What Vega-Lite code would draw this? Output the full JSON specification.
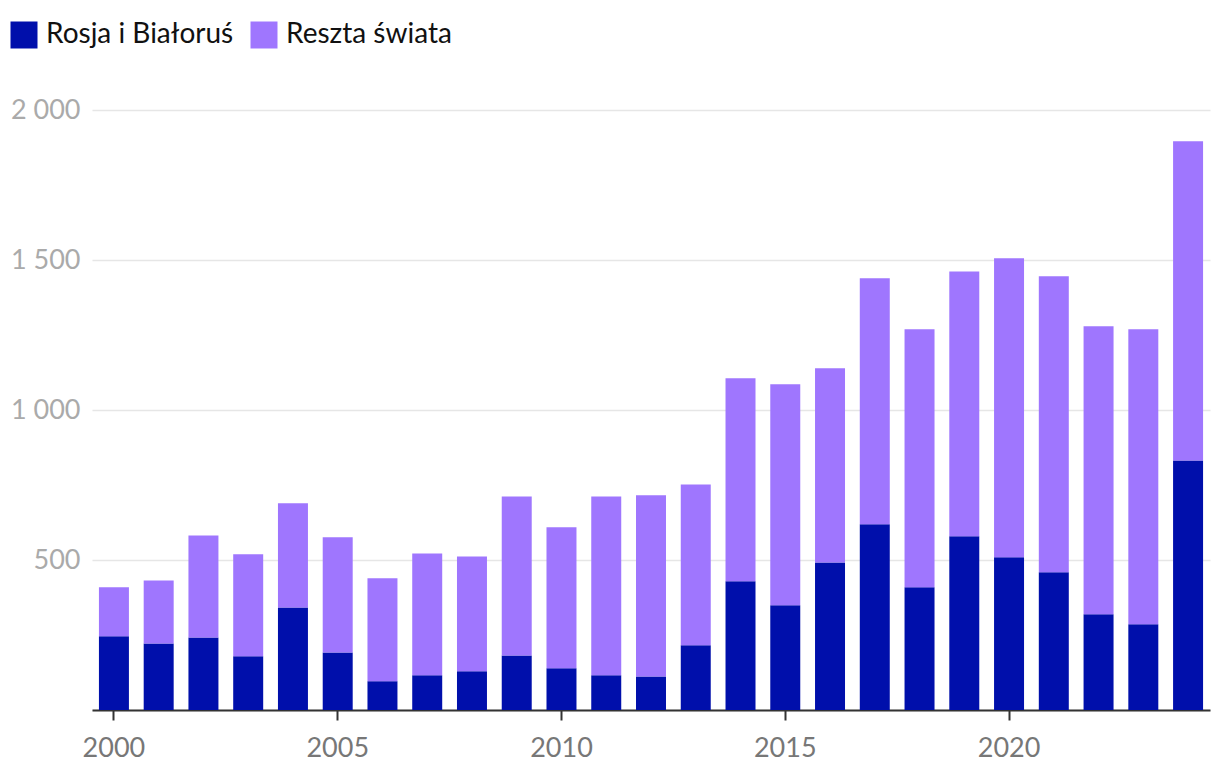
{
  "$schema": "https://vega.github.io/schema/vega-lite/v6.json",
  "width": 1118,
  "height": 600,
  "padding": {"left": 92, "top": 110, "right": 10, "bottom": 74},
  "autosize": {"type": "none"},
  "background": "white",
  "config": {
    "font": "Lato",
    "view": {"stroke": null}
  },
  "data": {
    "values": [
      {"rok": 2000, "seria": "Rosja i Białoruś", "wartosc": 246},
      {"rok": 2001, "seria": "Rosja i Białoruś", "wartosc": 222},
      {"rok": 2002, "seria": "Rosja i Białoruś", "wartosc": 242},
      {"rok": 2003, "seria": "Rosja i Białoruś", "wartosc": 179},
      {"rok": 2004, "seria": "Rosja i Białoruś", "wartosc": 342},
      {"rok": 2005, "seria": "Rosja i Białoruś", "wartosc": 192},
      {"rok": 2006, "seria": "Rosja i Białoruś", "wartosc": 96},
      {"rok": 2007, "seria": "Rosja i Białoruś", "wartosc": 116},
      {"rok": 2008, "seria": "Rosja i Białoruś", "wartosc": 129},
      {"rok": 2009, "seria": "Rosja i Białoruś", "wartosc": 182},
      {"rok": 2010, "seria": "Rosja i Białoruś", "wartosc": 139},
      {"rok": 2011, "seria": "Rosja i Białoruś", "wartosc": 116},
      {"rok": 2012, "seria": "Rosja i Białoruś", "wartosc": 112},
      {"rok": 2013, "seria": "Rosja i Białoruś", "wartosc": 216},
      {"rok": 2014, "seria": "Rosja i Białoruś", "wartosc": 429},
      {"rok": 2015, "seria": "Rosja i Białoruś", "wartosc": 349},
      {"rok": 2016, "seria": "Rosja i Białoruś", "wartosc": 492},
      {"rok": 2017, "seria": "Rosja i Białoruś", "wartosc": 619},
      {"rok": 2018, "seria": "Rosja i Białoruś", "wartosc": 409},
      {"rok": 2019, "seria": "Rosja i Białoruś", "wartosc": 579},
      {"rok": 2020, "seria": "Rosja i Białoruś", "wartosc": 509},
      {"rok": 2021, "seria": "Rosja i Białoruś", "wartosc": 459},
      {"rok": 2022, "seria": "Rosja i Białoruś", "wartosc": 319},
      {"rok": 2023, "seria": "Rosja i Białoruś", "wartosc": 286},
      {"rok": 2024, "seria": "Rosja i Białoruś", "wartosc": 832},
      {"rok": 2000, "seria": "Reszta świata", "wartosc": 163},
      {"rok": 2001, "seria": "Reszta świata", "wartosc": 210},
      {"rok": 2002, "seria": "Reszta świata", "wartosc": 340},
      {"rok": 2003, "seria": "Reszta świata", "wartosc": 340},
      {"rok": 2004, "seria": "Reszta świata", "wartosc": 347},
      {"rok": 2005, "seria": "Reszta świata", "wartosc": 384},
      {"rok": 2006, "seria": "Reszta świata", "wartosc": 343},
      {"rok": 2007, "seria": "Reszta świata", "wartosc": 406},
      {"rok": 2008, "seria": "Reszta świata", "wartosc": 383},
      {"rok": 2009, "seria": "Reszta świata", "wartosc": 530},
      {"rok": 2010, "seria": "Reszta świata", "wartosc": 470},
      {"rok": 2011, "seria": "Reszta świata", "wartosc": 596},
      {"rok": 2012, "seria": "Reszta świata", "wartosc": 604},
      {"rok": 2013, "seria": "Reszta świata", "wartosc": 536},
      {"rok": 2014, "seria": "Reszta świata", "wartosc": 677},
      {"rok": 2015, "seria": "Reszta świata", "wartosc": 737},
      {"rok": 2016, "seria": "Reszta świata", "wartosc": 647},
      {"rok": 2017, "seria": "Reszta świata", "wartosc": 820},
      {"rok": 2018, "seria": "Reszta świata", "wartosc": 860},
      {"rok": 2019, "seria": "Reszta świata", "wartosc": 883},
      {"rok": 2020, "seria": "Reszta świata", "wartosc": 997},
      {"rok": 2021, "seria": "Reszta świata", "wartosc": 987},
      {"rok": 2022, "seria": "Reszta świata", "wartosc": 960},
      {"rok": 2023, "seria": "Reszta świata", "wartosc": 983},
      {"rok": 2024, "seria": "Reszta świata", "wartosc": 1064}
    ]
  },
  "mark": {"type": "bar"},
  "encoding": {
    "x": {
      "field": "rok",
      "type": "ordinal",
      "scale": {"paddingInner": 0.33, "paddingOuter": 0.155},
      "axis": {
        "title": null,
        "values": [2000, 2005, 2010, 2015, 2020],
        "labelAngle": 0,
        "labelFont": "Lato",
        "labelFontSize": 27,
        "labelColor": "#777777",
        "labelPadding": 15,
        "domainColor": "#333333",
        "domainWidth": 2,
        "tickColor": "#333333",
        "tickWidth": 2,
        "tickSize": 10,
        "grid": false
      }
    },
    "y": {
      "field": "wartosc",
      "type": "quantitative",
      "stack": "zero",
      "scale": {"domain": [0, 2000], "nice": false},
      "axis": {
        "title": null,
        "values": [0, 500, 1000, 1500, 2000],
        "labelExpr": "datum.value == 0 ? '' : replace(format(datum.value, ','), ',', ' ')",
        "labelFont": "Lato",
        "labelFontSize": 27,
        "labelColor": "#aaaaaa",
        "labelPadding": 12,
        "domain": false,
        "ticks": false,
        "gridColor": "#e6e6e6",
        "gridWidth": 1.5
      }
    },
    "color": {
      "field": "seria",
      "type": "nominal",
      "sort": ["Rosja i Białoruś", "Reszta świata"],
      "scale": {
        "domain": ["Rosja i Białoruś", "Reszta świata"],
        "range": ["#000FAB", "#9F76FE"]
      },
      "legend": {
        "title": null,
        "orient": "none",
        "legendX": -82,
        "legendY": -89,
        "direction": "horizontal",
        "symbolType": "square",
        "symbolSize": 729,
        "symbolStrokeWidth": 0,
        "symbolOpacity": 1,
        "labelFont": "Lato",
        "labelFontSize": 28,
        "labelColor": "#111111",
        "labelOffset": 8,
        "columnPadding": 16,
        "labelLimit": 400
      }
    }
  }
}
